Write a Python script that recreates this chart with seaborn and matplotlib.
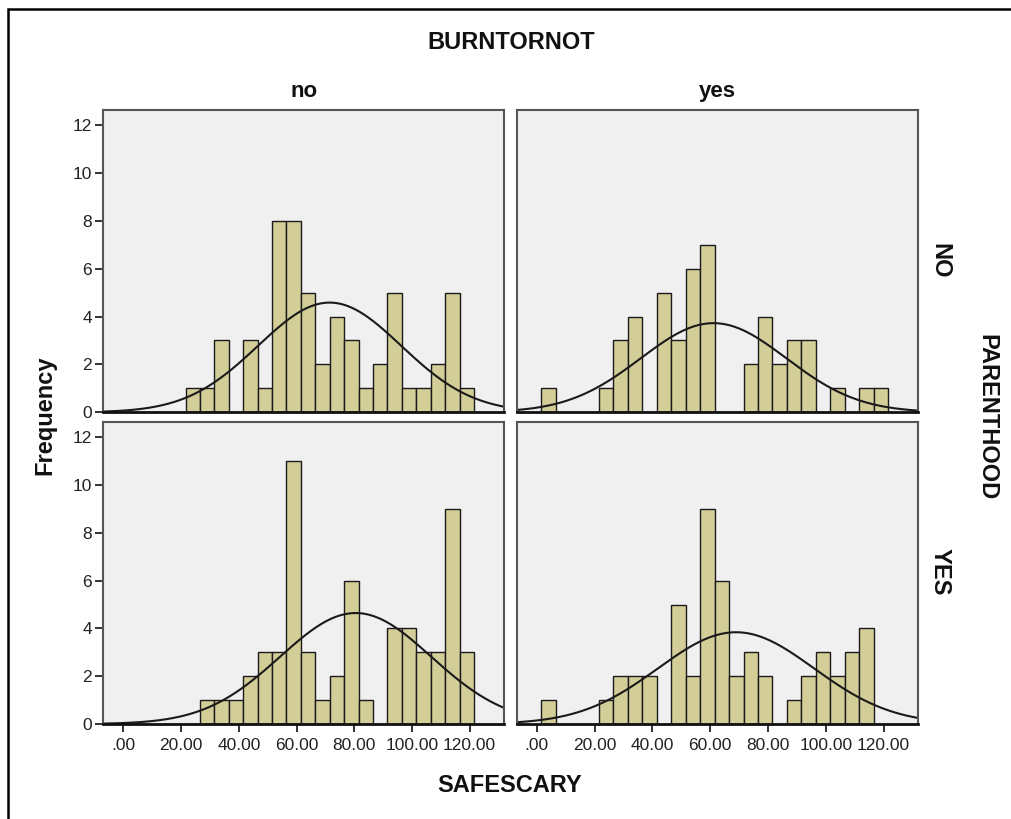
import numpy as np
import pandas as pd
import seaborn as sns
import matplotlib.pyplot as plt
from matplotlib.patches import Rectangle

# bins of width 5, SPSS style
bin_start, bin_stop, bin_w = 1.5, 121.5, 5
bin_centers = np.arange(bin_start + bin_w / 2, bin_stop, bin_w)

burnt_levels = ["no", "yes"]
parent_levels = ["NO", "YES"]

# counts per bin
counts_no_NO = [0, 0, 0, 0, 1, 1, 3, 0, 3, 1, 8, 8, 5, 2, 4, 3, 1, 2, 5, 1, 1, 2, 5, 1]
counts_yes_NO = [1, 0, 0, 0, 1, 3, 4, 0, 5, 3, 6, 7, 0, 0, 2, 4, 2, 3, 3, 0, 1, 0, 1, 1]
counts_no_YES = [0, 0, 0, 0, 0, 1, 1, 1, 2, 3, 3, 11, 3, 1, 2, 6, 1, 0, 4, 4, 3, 3, 9, 3]
counts_yes_YES = [1, 0, 0, 0, 1, 2, 2, 2, 0, 5, 2, 9, 6, 2, 3, 2, 0, 1, 2, 3, 2, 3, 4, 0]

panel_counts = {
    ("no", "NO"): counts_no_NO,
    ("yes", "NO"): counts_yes_NO,
    ("no", "YES"): counts_no_YES,
    ("yes", "YES"): counts_yes_YES,
}

x_ticks = [0, 20, 40, 60, 80, 100, 120]
x_tick_labels = [".00", "20.00", "40.00", "60.00", "80.00", "100.00", "120.00"]
y_ticks = [0, 2, 4, 6, 8, 10, 12]

rows = []
for (b, p), c in panel_counts.items():
    for xc, n in zip(bin_centers, c):
        rows.append({"SAFESCARY": xc, "count": n, "BURNTORNOT": b, "PARENTHOOD": p})
df = pd.DataFrame(rows)

sns.set_style("white")
plt.rcParams["font.family"] = ["Liberation Sans", "DejaVu Sans"]

W, H = 1011, 819
fig = plt.figure(figsize=(W / 100, H / 100), dpi=100)

col_px = [(103.3, 401.0), (516.7, 401.6)]
row_px = [(110.0, 412.3), (422.3, 724.0)]

bar_color = "#D3CE97"
xs = np.linspace(-7, 132, 400)

for ri, p in enumerate(parent_levels):
    for ci, b in enumerate(burnt_levels):
        l, w = col_px[ci]
        t, bt = row_px[ri]
        ax = fig.add_axes([l / W, 1 - bt / H, w / W, (bt - t) / H])
        sub = df[(df.BURNTORNOT == b) & (df.PARENTHOOD == p)].reset_index(drop=True)
        sns.histplot(data=sub, x="SAFESCARY", weights="count", binwidth=bin_w,
                     binrange=(bin_start, bin_stop), color=bar_color, alpha=1,
                     edgecolor="#1a1a1a", linewidth=1.0, ax=ax)
        # normal curve fitted to the panel data
        n = sub["count"].sum()
        mu = np.average(sub.SAFESCARY, weights=sub["count"])
        sd = np.sqrt(np.average((sub.SAFESCARY - mu) ** 2, weights=sub["count"]) * n / (n - 1))
        dens = n * bin_w / (sd * np.sqrt(2 * np.pi)) * np.exp(-0.5 * ((xs - mu) / sd) ** 2)
        ax.plot(xs, dens, color="#1a1a1a", lw=1.5)

        ax.set_facecolor("#F0F0F0")
        ax.set_xlim(-7, 132)
        ax.set_ylim(0, 12.63)
        ax.set_xlabel("")
        ax.set_ylabel("")
        for s in ax.spines.values():
            s.set_color("#555555")
            s.set_linewidth(1.5)
        ax.spines["bottom"].set_color("#111111")
        ax.spines["bottom"].set_linewidth(2)
        ax.tick_params(length=6, width=1.4, color="#333333", labelsize=12.5,
                       labelcolor="#222222", direction="out")
        if ci == 0:
            ax.set_yticks(y_ticks)
            ax.tick_params(axis="y", left=True, pad=2)
        else:
            ax.set_yticks([])
        if ri == 1:
            ax.set_xticks(x_ticks)
            ax.set_xticklabels(x_tick_labels)
            ax.tick_params(axis="x", bottom=True, pad=4)
        else:
            ax.set_xticks([])

# facet labels
bold = dict(fontweight="bold", color="#111111")
fig.text(511 / W, 1 - 49.3 / H, "BURNTORNOT", ha="center", va="baseline", fontsize=17, **bold)
fig.text(303.8 / W, 1 - 97 / H, "no", ha="center", va="baseline", fontsize=16, **bold)
fig.text(717.5 / W, 1 - 97 / H, "yes", ha="center", va="baseline", fontsize=16, **bold)
fig.text(510 / W, 1 - 791.7 / H, "SAFESCARY", ha="center", va="baseline", fontsize=17, **bold)
fig.text(45 / W, 1 - 415 / H, "Frequency", ha="center", va="center", rotation=90, fontsize=17, **bold)
fig.text(987 / W, 1 - 417 / H, "PARENTHOOD", ha="center", va="center", rotation=-90, fontsize=17, **bold)
fig.text(940 / W, 1 - 261 / H, "NO", ha="center", va="center", rotation=-90, fontsize=17, **bold)
fig.text(940 / W, 1 - 572 / H, "YES", ha="center", va="center", rotation=-90, fontsize=17, **bold)

# outer frame (right and bottom run off the image)
fig.add_artist(Rectangle((8 / W, -0.1), 1.2, 1.1 - 9 / H, fill=False, lw=1.8,
                         edgecolor="black", transform=fig.transFigure))

fig.savefig("out.png", dpi=100)
